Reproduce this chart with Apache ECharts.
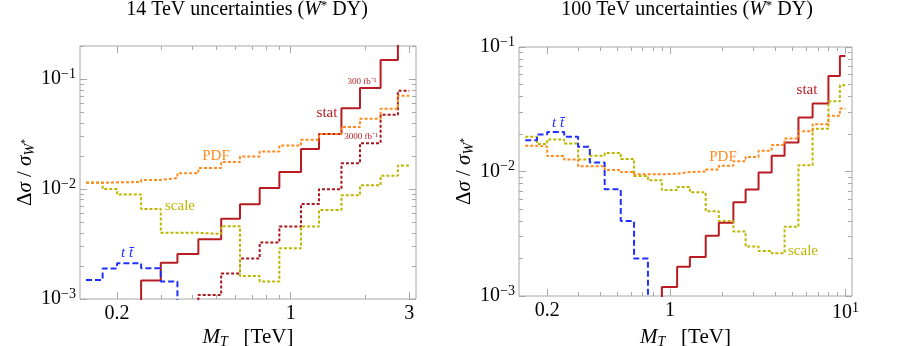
<!DOCTYPE html>
<html>
<head>
<meta charset="utf-8">
<script src="https://cdn.jsdelivr.net/npm/echarts@6/dist/echarts.min.js"></script>
<style>
  html, body { margin: 0; padding: 0; background: #fff; }
  #chart { width: 900px; height: 346px; }
</style>
</head>
<body>
<div id="chart"></div>
<script>
// bin edges, TeV
var edges14 = [0.15, 0.175, 0.2, 0.25, 0.3, 0.35, 0.425, 0.525, 0.625, 0.75, 0.9, 1.1, 1.3, 1.6, 1.9, 2.3, 2.7, 3.0];
var edges100 = [0.15, 0.175, 0.2, 0.25, 0.3, 0.35, 0.425, 0.525, 0.625, 0.75, 0.9, 1.1, 1.3, 1.6, 1.9, 2.3, 2.7, 3.2, 3.8, 4.5, 5.4, 6.5, 8.0, 9.3, 10];

// 14 TeV (one value per bin, null = not drawn)
var stat14_300 = [null, null, 0.0008, 0.00147, 0.00214, 0.00257, 0.00349, 0.00538, 0.00727, 0.0102, 0.0143, 0.0231, 0.0316, 0.0544, 0.0828, 0.149, 0.25];
var stat14_3000 = [null, null, null, null, null, 0.0008, 0.00109, 0.00171, 0.00234, 0.00326, 0.00456, 0.00733, 0.00997, 0.0172, 0.0261, 0.0473, 0.0783];
var pdf14 = [0.0114, 0.0115, 0.0116, 0.0121, 0.0126, 0.0139, 0.0155, 0.0176, 0.0198, 0.0220, 0.0249, 0.0281, 0.0316, 0.0366, 0.0436, 0.0537, 0.0705];
var scale14 = [0.0115, 0.0100, 0.0089, 0.0066, 0.0040, 0.0040, 0.0039, 0.0046, 0.00162, 0.00144, 0.00289, 0.00456, 0.00646, 0.00879, 0.0108, 0.0132, 0.0164];
var ttbar14 = [0.00149, 0.00189, 0.00211, 0.0019, 0.00144, 0.0008, null, null, null, null, null, null, null, null, null, null, null];

// 100 TeV
var stat100 = [null, null, null, null, null, null, null, null, null, 0.0008, 0.00118, 0.00172, 0.00206, 0.00305, 0.00388, 0.00567, 0.00717, 0.00982, 0.0134, 0.0171, 0.0271, 0.0351, 0.0585, 0.0847];
var pdf100 = [0.0161, 0.0158, 0.0133, 0.0125, 0.0110, 0.0110, 0.0103, 0.0099, 0.0095, 0.0095, 0.0096, 0.0099, 0.0100, 0.0104, 0.0111, 0.0121, 0.0131, 0.0147, 0.0163, 0.0184, 0.0211, 0.0240, 0.0280, 0.0320];
var scale100 = [0.0190, 0.0166, 0.0181, 0.0168, 0.0125, 0.0134, 0.0141, 0.0126, 0.0092, 0.0085, 0.0071, 0.0075, 0.0068, 0.0048, 0.0040, 0.0033, 0.0025, 0.0023, 0.0022, 0.0036, 0.0112, 0.0220, 0.0366, 0.0493];
var ttbar100 = [0.0178, 0.0198, 0.0208, 0.0190, 0.0158, 0.0118, 0.0072, 0.0040, 0.0020, 0.0008, null, null, null, null, null, null, null, null, null, null, null, null, null, null];

// ticks
var xMajor14 = [0.2, 1, 3];
var xLabels14 = ['0.2', '1', '3'];
var xMinor14 = [0.3, 0.4, 0.5, 0.6, 0.7, 0.8, 0.9, 2];
var xMajor100 = [0.2, 1, 10];
var xLabels100 = ['0.2', '1', '{b|10}{s|1}'];
var xMinor100 = [0.3, 0.4, 0.5, 0.6, 0.7, 0.8, 0.9, 2, 3, 4, 5, 6, 7, 8, 9];
var yMajor = [0.001, 0.01, 0.1];
var yLabels = ['{b|10}{s|\u22123}', '{b|10}{s|\u22122}', '{b|10}{s|\u22121}'];
var yMinor14 = [0.002, 0.003, 0.004, 0.005, 0.006, 0.007, 0.008, 0.009, 0.02, 0.03, 0.04, 0.05, 0.06, 0.07, 0.08, 0.09, 0.2];
var yMinor100 = [0.002, 0.003, 0.004, 0.005, 0.006, 0.007, 0.008, 0.009, 0.02, 0.03, 0.04, 0.05, 0.06, 0.07, 0.08, 0.09];

var FONT = 'Liberation Serif';
var FRAME = '#a8a8a8';
var cStat = '#b81c22', cStat2 = '#a8161e', cPdf = '#ff8a1c', cScale = '#bdb500', cTt = '#2030ff';

var lg = function (v) { return Math.log10(v); };

function stepData(edges, vals) {
  var out = [], last = -1;
  for (var i = 0; i < vals.length; i++) {
    if (vals[i] == null) continue;
    out.push([lg(edges[i]), lg(vals[i])]);
    last = i;
  }
  out.push([lg(edges[last + 1]), lg(vals[last])]);
  return out;
}

var tickRich = {
  b: { fontFamily: FONT, fontSize: 20, color: '#000' },
  s: { fontFamily: FONT, fontSize: 14, color: '#000', padding: [0, 0, 10, 0] }
};

function labelFn(major, labels) {
  return function (v) {
    for (var i = 0; i < major.length; i++) {
      if (Math.abs(lg(major[i]) - v) < 1e-6) return labels[i];
    }
    return '';
  };
}

// four axes per direction: labelled major, minor, and the mirrored pair on the far side
function makeAxes(dir, gi, range, major, labels, minor, extra) {
  var base = {
    type: 'value', gridIndex: gi, min: lg(range[0]), max: lg(range[1]),
    splitLine: { show: false }, axisLine: { show: false, onZero: false }
  };
  var pos = dir === 'x' ? ['bottom', 'top'] : ['left', 'right'];
  var list = [];
  pos.forEach(function (p, k) {
    list.push(Object.assign({}, base, {
      position: p,
      axisTick: { inside: true, length: 7, customValues: major.map(lg), lineStyle: { color: FRAME } },
      axisLabel: k === 0 ? {
        customValues: major.map(lg), formatter: labelFn(major, labels),
        fontFamily: FONT, fontSize: 20, color: '#000', margin: dir === 'x' ? 5 : 4, rich: tickRich
      } : { show: false }
    }, k === 0 ? extra : {}));
    list.push(Object.assign({}, base, {
      position: p,
      axisTick: { inside: true, length: 4, customValues: minor.map(lg), lineStyle: { color: FRAME } },
      axisLabel: { show: false }
    }));
  });
  return list;
}

var nameRich = {
  n: { fontFamily: FONT, fontSize: 21, color: '#000' },
  i: { fontFamily: FONT, fontSize: 21, fontStyle: 'italic', color: '#000' },
  sub: { fontFamily: FONT, fontSize: 14, fontStyle: 'italic', color: '#000', padding: [10, 0, 0, 0] },
  ss: { fontFamily: FONT, fontSize: 10, color: '#000' }
};
var xName = { name: '{i|M}{sub|T}{n|   [TeV]}', nameLocation: 'middle', nameMoveOverlap: false, nameTextStyle: { rich: nameRich } };
var yName = { name: '{n|\u0394}{i|\u03c3}{n| / }{i|\u03c3}{sub|W}{ss|*}', nameLocation: 'middle', nameRotate: 90, nameMoveOverlap: false, nameTextStyle: { rich: nameRich } };

var xAxes = []
  .concat(makeAxes('x', 0, [0.1419, 3.193], xMajor14, xLabels14, xMinor14, Object.assign({ nameGap: 26 }, xName)))
  .concat(makeAxes('x', 1, [0.1382, 10.9], xMajor100, xLabels100, xMinor100, Object.assign({ nameGap: 29 }, xName)));
var yAxes = []
  .concat(makeAxes('y', 0, [0.001, 0.2], yMajor, yLabels, yMinor14, Object.assign({ nameGap: 43 }, yName)))
  .concat(makeAxes('y', 1, [0.001, 0.1], yMajor, yLabels, yMinor100, Object.assign({ nameGap: 43 }, yName)));

function stepSeries(gi, edges, vals, color, dash, width, z) {
  return {
    type: 'line', xAxisIndex: gi * 4, yAxisIndex: gi * 4,
    data: stepData(edges, vals), step: 'end',
    symbol: 'none', clip: true, silent: true, z: z,
    lineStyle: { color: color, width: width, type: dash, cap: 'butt' }
  };
}

var series = [
  stepSeries(0, edges14, stat14_300, cStat, 'solid', 2, 2),
  stepSeries(0, edges14, stat14_3000, cStat2, [3, 2], 2, 3),
  stepSeries(0, edges14, scale14, cScale, [3, 2], 2, 3),
  stepSeries(0, edges14, pdf14, cPdf, [3, 2], 2, 4),
  stepSeries(0, edges14, ttbar14, cTt, [6, 3], 2, 4),
  stepSeries(1, edges100, stat100, cStat, 'solid', 2, 2),
  stepSeries(1, edges100, scale100, cScale, [3, 2], 2, 3),
  stepSeries(1, edges100, pdf100, cPdf, [3, 2], 2, 4),
  stepSeries(1, edges100, ttbar100, cTt, [6, 3], 2, 4)
];

function txt(x, y, text, color, size, italic) {
  return {
    type: 'text', x: x, y: y, z: 20,
    style: {
      text: text, fill: color, fontFamily: FONT, fontSize: size,
      fontStyle: italic ? 'italic' : 'normal', align: 'center', verticalAlign: 'middle'
    }
  };
}

var titleRich = {
  n: { fontFamily: FONT, fontSize: 20, fill: '#000' },
  i: { fontFamily: FONT, fontSize: 20, fontStyle: 'italic', fill: '#000' },
  sup: { fontFamily: FONT, fontSize: 13, fill: '#000', padding: [0, 0, 9, 0] }
};
function title(x, text) {
  return {
    type: 'text', x: x, y: 10, z: 20,
    style: { text: text, rich: titleRich, align: 'center', verticalAlign: 'middle', fontFamily: FONT, fontSize: 20 }
  };
}

var graphic = [
  title(247, '{n|14 TeV uncertainties (}{i|W}{sup|*}{n| DY)}'),
  title(687, '{n|100 TeV uncertainties (}{i|W}{sup|*}{n| DY)}'),
  txt(216, 156, 'PDF', cPdf, 15),
  txt(180, 206, 'scale', cScale, 15),
  txt(127, 253, 't t\u0304', cTt, 15, true),
  txt(327, 113, 'stat', cStat, 15),
  txt(362, 82, '300 fb\u207b\u00b9', cStat, 9),
  txt(361, 137, '3000 fb\u207b\u00b9', cStat, 9),
  txt(558, 123, 't t\u0304', cTt, 15, true),
  txt(723, 157, 'PDF', cPdf, 15),
  txt(807, 90, 'stat', cStat, 15),
  txt(803, 251, 'scale', cScale, 15)
];

var chart = echarts.init(document.getElementById('chart'));
chart.setOption({
  animation: false,
  grid: [
    { left: 80, top: 46, width: 336, height: 253, show: true, borderColor: FRAME, borderWidth: 1, containLabel: false, outerBoundsMode: 'none' },
    { left: 519, top: 47, width: 333, height: 249, show: true, borderColor: FRAME, borderWidth: 1, containLabel: false, outerBoundsMode: 'none' }
  ],
  xAxis: xAxes,
  yAxis: yAxes,
  series: series,
  graphic: graphic
});
</script>
</body>
</html>
